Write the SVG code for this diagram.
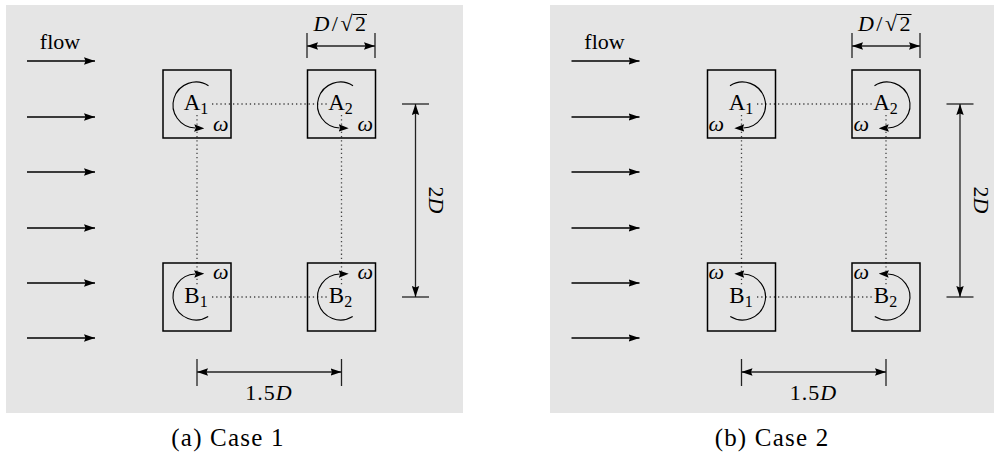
<svg xmlns="http://www.w3.org/2000/svg" width="1000" height="464" viewBox="0 0 1000 464">
<style>
.bg{fill:#e5e5e5;stroke:none}
.box{fill:none;stroke:#000;stroke-width:1.5}
.t{font-family:"Liberation Serif","Times New Roman",serif;font-size:22px;fill:#000}
.lb{font-family:"Liberation Serif","Times New Roman",serif;font-size:23px;fill:#000;text-anchor:middle}
.it{font-style:italic}
.cap{font-family:"Liberation Serif","Times New Roman",serif;font-size:25px;letter-spacing:1.2px;fill:#000;text-anchor:middle}
.dot{fill:none;stroke:#444;stroke-width:1.3;stroke-dasharray:1.3 2.9}
.arc{fill:none;stroke:#000;stroke-width:1.1;marker-end:url(#ah2)}
.flow{fill:none;stroke:#000;stroke-width:1.3;marker-end:url(#ah)}
.dim{fill:none;stroke:#222;stroke-width:1.3;marker-start:url(#ah);marker-end:url(#ah)}
.tick{fill:none;stroke:#222;stroke-width:1.3}
</style>
<defs>
<marker id="ah" viewBox="0 0 11 8" refX="11" refY="4" markerWidth="11" markerHeight="8" markerUnits="userSpaceOnUse" orient="auto-start-reverse"><path d="M0,0.3 L11,4 L0,7.7 L1.5,4 z" fill="#000"/></marker>
<marker id="ah2" viewBox="0 0 10 8" refX="1" refY="4" markerWidth="10" markerHeight="8" markerUnits="userSpaceOnUse" orient="auto"><path d="M0,0.3 L10,4 L0,7.7 L1.5,4 z" fill="#000"/></marker>
</defs>
<rect class="bg" x="6" y="5" width="457" height="408"/>
<rect class="bg" x="550" y="5" width="444" height="408"/>

<!-- Case 1 -->
<g id="case1-connectors">
<line class="dot" x1="212" y1="104" x2="328" y2="104"/>
<line class="dot" x1="212" y1="297" x2="328" y2="297"/>
<line class="dot" x1="197" y1="115" x2="197" y2="285"/>
<line class="dot" x1="341.5" y1="115" x2="341.5" y2="285"/>
<line class="flow" x1="27" y1="61" x2="95" y2="61"/>
<line class="flow" x1="27" y1="117" x2="95" y2="117"/>
<line class="flow" x1="27" y1="172" x2="95" y2="172"/>
<line class="flow" x1="27" y1="228" x2="95" y2="228"/>
<line class="flow" x1="27" y1="283" x2="95" y2="283"/>
<line class="flow" x1="27" y1="338" x2="95" y2="338"/>
<line class="tick" x1="307" y1="33" x2="307" y2="58"/>
<line class="tick" x1="375" y1="33" x2="375" y2="58"/>
<line class="dim" x1="307" y1="46" x2="375" y2="46"/>
<line class="tick" x1="197" y1="359" x2="197" y2="386"/>
<line class="tick" x1="341.5" y1="359" x2="341.5" y2="386"/>
<line class="dim" x1="197" y1="372" x2="341.5" y2="372"/>
<line class="tick" x1="402" y1="104" x2="429" y2="104"/>
<line class="tick" x1="402" y1="297" x2="429" y2="297"/>
<line class="dim" x1="415.5" y1="104" x2="415.5" y2="297"/>
</g>
<text class="t" x="60" y="49" text-anchor="middle">flow</text>
<text class="t" x="341" y="31" text-anchor="middle" letter-spacing="2.5"><tspan class="it">D</tspan>/√2</text>
<line x1="352.5" y1="14.5" x2="367" y2="14.5" stroke="#000" stroke-width="1"/>
<text class="t" x="269" y="400" text-anchor="middle" letter-spacing="1">1.5<tspan class="it">D</tspan></text>
<text class="t" transform="translate(429,200) rotate(90)" text-anchor="middle">2<tspan class="it">D</tspan></text>

<g id="c1-A1">
<rect class="box" x="163" y="70" width="68" height="68"/>
<path class="arc" d="M208.5,85.7 A23 23 0 1 0 195.2,128"/>
<text class="lb" x="196" y="110">A<tspan font-size="16" dy="4">1</tspan></text>
<text class="t it" x="213" y="131" font-size="23">ω</text>
</g>
<g id="c1-A2">
<rect class="box" x="307.5" y="70" width="68" height="68"/>
<path class="arc" d="M353,85.7 A23 23 0 1 0 339.7,128"/>
<text class="lb" x="340.5" y="110">A<tspan font-size="16" dy="4">2</tspan></text>
<text class="t it" x="357.5" y="131" font-size="23">ω</text>
</g>
<g id="c1-B1">
<rect class="box" x="163" y="263" width="68" height="68"/>
<path class="arc" d="M208.2,316.5 A23 23 0 1 1 195.2,274"/>
<text class="lb" x="196" y="303">B<tspan font-size="16" dy="4">1</tspan></text>
<text class="t it" x="213" y="279" font-size="23">ω</text>
</g>
<g id="c1-B2">
<rect class="box" x="307.5" y="263" width="68" height="68"/>
<path class="arc" d="M352.7,316.5 A23 23 0 1 1 339.7,274"/>
<text class="lb" x="340.5" y="303">B<tspan font-size="16" dy="4">2</tspan></text>
<text class="t it" x="357.5" y="279" font-size="23">ω</text>
</g>
<text class="cap" x="228" y="446">(a) Case 1</text>

<!-- Case 2 -->
<g id="case2-connectors">
<line class="dot" x1="757" y1="104" x2="872" y2="104"/>
<line class="dot" x1="757" y1="297" x2="872" y2="297"/>
<line class="dot" x1="741.5" y1="115" x2="741.5" y2="285"/>
<line class="dot" x1="886" y1="115" x2="886" y2="285"/>
<line class="flow" x1="571.5" y1="61" x2="639.5" y2="61"/>
<line class="flow" x1="571.5" y1="117" x2="639.5" y2="117"/>
<line class="flow" x1="571.5" y1="172" x2="639.5" y2="172"/>
<line class="flow" x1="571.5" y1="228" x2="639.5" y2="228"/>
<line class="flow" x1="571.5" y1="283" x2="639.5" y2="283"/>
<line class="flow" x1="571.5" y1="338" x2="639.5" y2="338"/>
<line class="tick" x1="852" y1="33" x2="852" y2="58"/>
<line class="tick" x1="920" y1="33" x2="920" y2="58"/>
<line class="dim" x1="852" y1="46" x2="920" y2="46"/>
<line class="tick" x1="741.5" y1="359" x2="741.5" y2="386"/>
<line class="tick" x1="886" y1="359" x2="886" y2="386"/>
<line class="dim" x1="741.5" y1="372" x2="886" y2="372"/>
<line class="tick" x1="946.5" y1="104" x2="973.5" y2="104"/>
<line class="tick" x1="946.5" y1="297" x2="973.5" y2="297"/>
<line class="dim" x1="960" y1="104" x2="960" y2="297"/>
</g>
<text class="t" x="604.5" y="49" text-anchor="middle">flow</text>
<text class="t" x="885.5" y="31" text-anchor="middle" letter-spacing="2.5"><tspan class="it">D</tspan>/√2</text>
<line x1="897" y1="14.5" x2="911.5" y2="14.5" stroke="#000" stroke-width="1"/>
<text class="t" x="813.5" y="400" text-anchor="middle" letter-spacing="1">1.5<tspan class="it">D</tspan></text>
<text class="t" transform="translate(973.5,200) rotate(90)" text-anchor="middle">2<tspan class="it">D</tspan></text>

<g id="c2-A1">
<rect class="box" x="707.5" y="70" width="68" height="68"/>
<path class="arc" d="M730,85.7 A23 23 0 1 1 743.3,128"/>
<text class="lb" x="741" y="110">A<tspan font-size="16" dy="4">1</tspan></text>
<text class="t it" x="724" y="131" text-anchor="end" font-size="23">ω</text>
</g>
<g id="c2-A2">
<rect class="box" x="852" y="70" width="68" height="68"/>
<path class="arc" d="M874.5,85.7 A23 23 0 1 1 887.8,128"/>
<text class="lb" x="885.5" y="110">A<tspan font-size="16" dy="4">2</tspan></text>
<text class="t it" x="869" y="131" text-anchor="end" font-size="23">ω</text>
</g>
<g id="c2-B1">
<rect class="box" x="707.5" y="263" width="68" height="68"/>
<path class="arc" d="M730.3,316.5 A23 23 0 1 0 743.3,274"/>
<text class="lb" x="741" y="303">B<tspan font-size="16" dy="4">1</tspan></text>
<text class="t it" x="724" y="279" text-anchor="end" font-size="23">ω</text>
</g>
<g id="c2-B2">
<rect class="box" x="852" y="263" width="68" height="68"/>
<path class="arc" d="M874.8,316.5 A23 23 0 1 0 887.8,274"/>
<text class="lb" x="885.5" y="303">B<tspan font-size="16" dy="4">2</tspan></text>
<text class="t it" x="869" y="279" text-anchor="end" font-size="23">ω</text>
</g>
<text class="cap" x="772" y="446">(b) Case 2</text>
</svg>
